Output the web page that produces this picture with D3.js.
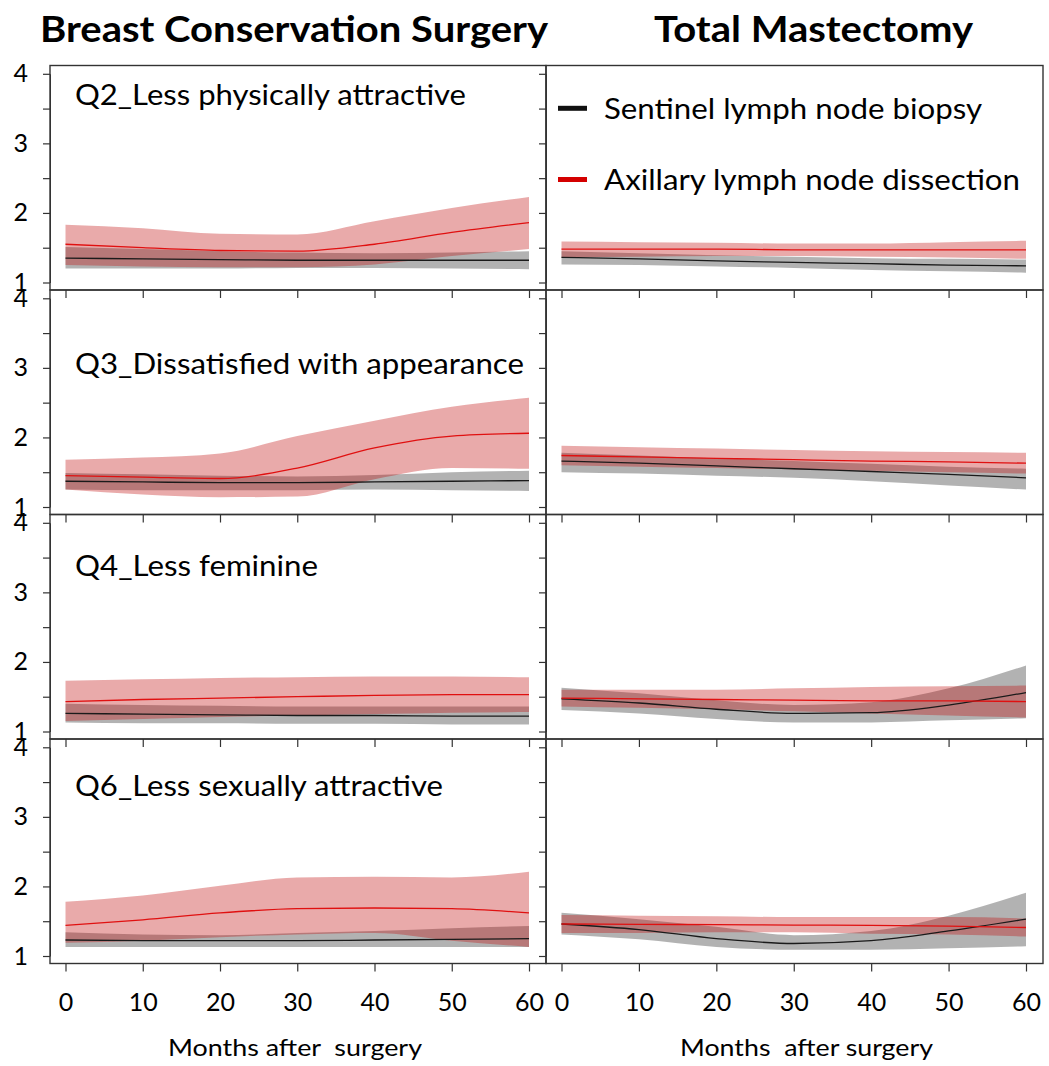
<!DOCTYPE html>
<html>
<head>
<meta charset="utf-8">
<script src="https://cdn.jsdelivr.net/npm/d3@7"></script>
<style>
  body { margin: 0; background: #fff; }
  text { font-family: Lato, "Open Sans", sans-serif; }
</style>
</head>
<body>
<svg id="chart"></svg>
<script>
const months = [0, 10, 20, 30, 40, 50, 60];

const column_titles = ['Breast Conservation Surgery', 'Total Mastectomy'];
const row_labels = ['Q2_Less physically attractive', 'Q3_Dissatisfied with appearance', 'Q4_Less feminine', 'Q6_Less sexually attractive'];
const legend_labels = ['Sentinel lymph node biopsy', 'Axillary lymph node dissection'];
const x_title_labels = ['Months after  surgery', 'Months  after surgery'];
const x_ticks = [0, 10, 20, 30, 40, 50, 60];
const y_ticks = [1, 1.5, 2, 2.5, 3, 3.5, 4];

// Q2, breast conservation surgery
const q2_bcs_alnd = [1.55, 1.50, 1.46, 1.45, 1.55, 1.72, 1.86];
const q2_bcs_alnd_hi = [1.83, 1.78, 1.70, 1.69, 1.88, 2.07, 2.23];
const q2_bcs_alnd_lo = [1.25, 1.23, 1.22, 1.22, 1.26, 1.38, 1.48];
const q2_bcs_slnb = [1.35, 1.34, 1.33, 1.32, 1.32, 1.32, 1.32];
const q2_bcs_slnb_hi = [1.51, 1.48, 1.45, 1.43, 1.42, 1.43, 1.45];
const q2_bcs_slnb_lo = [1.20, 1.20, 1.20, 1.21, 1.21, 1.20, 1.19];
// Q2, total mastectomy
const q2_tm_alnd = [1.48, 1.48, 1.48, 1.47, 1.47, 1.47, 1.47];
const q2_tm_alnd_hi = [1.59, 1.58, 1.57, 1.56, 1.56, 1.58, 1.60];
const q2_tm_alnd_lo = [1.36, 1.37, 1.38, 1.38, 1.37, 1.36, 1.34];
const q2_tm_slnb = [1.36, 1.34, 1.31, 1.29, 1.27, 1.25, 1.24];
const q2_tm_slnb_hi = [1.45, 1.42, 1.39, 1.37, 1.35, 1.34, 1.33];
const q2_tm_slnb_lo = [1.26, 1.25, 1.23, 1.21, 1.18, 1.16, 1.14];

// Q3, breast conservation surgery
const q3_bcs_alnd = [1.45, 1.43, 1.41, 1.56, 1.85, 2.02, 2.06];
const q3_bcs_alnd_hi = [1.68, 1.71, 1.77, 2.02, 2.24, 2.44, 2.57];
const q3_bcs_alnd_lo = [1.25, 1.18, 1.14, 1.15, 1.40, 1.56, 1.55];
const q3_bcs_slnb = [1.37, 1.36, 1.35, 1.35, 1.36, 1.37, 1.38];
const q3_bcs_slnb_hi = [1.49, 1.47, 1.45, 1.44, 1.46, 1.50, 1.52];
const q3_bcs_slnb_lo = [1.25, 1.24, 1.24, 1.24, 1.25, 1.24, 1.23];
// Q3, total mastectomy
const q3_tm_alnd = [1.74, 1.72, 1.70, 1.68, 1.66, 1.65, 1.63];
const q3_tm_alnd_hi = [1.88, 1.86, 1.84, 1.82, 1.80, 1.79, 1.78];
const q3_tm_alnd_lo = [1.60, 1.58, 1.56, 1.54, 1.52, 1.50, 1.48];
const q3_tm_slnb = [1.66, 1.63, 1.59, 1.55, 1.51, 1.47, 1.42];
const q3_tm_slnb_hi = [1.78, 1.74, 1.70, 1.66, 1.62, 1.58, 1.55];
const q3_tm_slnb_lo = [1.50, 1.48, 1.45, 1.42, 1.37, 1.31, 1.25];

// Q4, breast conservation surgery
const q4_bcs_alnd = [1.43, 1.46, 1.48, 1.50, 1.52, 1.53, 1.53];
const q4_bcs_alnd_hi = [1.73, 1.75, 1.77, 1.78, 1.79, 1.79, 1.78];
const q4_bcs_alnd_lo = [1.15, 1.18, 1.21, 1.23, 1.25, 1.27, 1.28];
const q4_bcs_slnb = [1.26, 1.25, 1.24, 1.23, 1.23, 1.22, 1.22];
const q4_bcs_slnb_hi = [1.40, 1.38, 1.37, 1.36, 1.36, 1.36, 1.36];
const q4_bcs_slnb_lo = [1.13, 1.12, 1.12, 1.11, 1.11, 1.10, 1.10];
// Q4, total mastectomy
const q4_tm_alnd = [1.48, 1.47, 1.46, 1.45, 1.44, 1.44, 1.43];
const q4_tm_alnd_hi = [1.60, 1.60, 1.60, 1.62, 1.64, 1.65, 1.66];
const q4_tm_alnd_lo = [1.36, 1.34, 1.32, 1.29, 1.26, 1.23, 1.20];
const q4_tm_slnb = [1.47, 1.41, 1.32, 1.26, 1.27, 1.38, 1.56];
const q4_tm_slnb_hi = [1.63, 1.55, 1.45, 1.38, 1.42, 1.62, 1.95];
const q4_tm_slnb_lo = [1.31, 1.26, 1.18, 1.13, 1.13, 1.16, 1.19];

// Q6, breast conservation surgery
const q6_bcs_alnd = [1.44, 1.52, 1.62, 1.68, 1.69, 1.68, 1.62];
const q6_bcs_alnd_hi = [1.78, 1.87, 2.01, 2.13, 2.14, 2.13, 2.21];
const q6_bcs_alnd_lo = [1.19, 1.22, 1.27, 1.31, 1.33, 1.22, 1.13];
const q6_bcs_slnb = [1.23, 1.22, 1.22, 1.22, 1.23, 1.24, 1.25];
const q6_bcs_slnb_hi = [1.34, 1.31, 1.30, 1.33, 1.36, 1.40, 1.43];
const q6_bcs_slnb_lo = [1.13, 1.13, 1.13, 1.13, 1.13, 1.13, 1.13];
// Q6, total mastectomy
const q6_tm_alnd = [1.46, 1.455, 1.45, 1.445, 1.44, 1.43, 1.41];
const q6_tm_alnd_hi = [1.59, 1.58, 1.57, 1.56, 1.56, 1.56, 1.54];
const q6_tm_alnd_lo = [1.33, 1.33, 1.34, 1.34, 1.32, 1.31, 1.28];
const q6_tm_slnb = [1.46, 1.38, 1.25, 1.18, 1.22, 1.36, 1.53];
const q6_tm_slnb_hi = [1.62, 1.53, 1.42, 1.30, 1.36, 1.58, 1.91];
const q6_tm_slnb_lo = [1.31, 1.24, 1.13, 1.09, 1.09, 1.11, 1.14];

// [row][col] -> series
const panels = [
    [
        {alnd: [q2_bcs_alnd, q2_bcs_alnd_lo, q2_bcs_alnd_hi], slnb: [q2_bcs_slnb, q2_bcs_slnb_lo, q2_bcs_slnb_hi]},
        {alnd: [q2_tm_alnd, q2_tm_alnd_lo, q2_tm_alnd_hi], slnb: [q2_tm_slnb, q2_tm_slnb_lo, q2_tm_slnb_hi]}
    ],
    [
        {alnd: [q3_bcs_alnd, q3_bcs_alnd_lo, q3_bcs_alnd_hi], slnb: [q3_bcs_slnb, q3_bcs_slnb_lo, q3_bcs_slnb_hi]},
        {alnd: [q3_tm_alnd, q3_tm_alnd_lo, q3_tm_alnd_hi], slnb: [q3_tm_slnb, q3_tm_slnb_lo, q3_tm_slnb_hi]}
    ],
    [
        {alnd: [q4_bcs_alnd, q4_bcs_alnd_lo, q4_bcs_alnd_hi], slnb: [q4_bcs_slnb, q4_bcs_slnb_lo, q4_bcs_slnb_hi]},
        {alnd: [q4_tm_alnd, q4_tm_alnd_lo, q4_tm_alnd_hi], slnb: [q4_tm_slnb, q4_tm_slnb_lo, q4_tm_slnb_hi]}
    ],
    [
        {alnd: [q6_bcs_alnd, q6_bcs_alnd_lo, q6_bcs_alnd_hi], slnb: [q6_bcs_slnb, q6_bcs_slnb_lo, q6_bcs_slnb_hi]},
        {alnd: [q6_tm_alnd, q6_tm_alnd_lo, q6_tm_alnd_hi], slnb: [q6_tm_slnb, q6_tm_slnb_lo, q6_tm_slnb_hi]}
    ]
];

let width = 1049;
let height = 1066;

const cols = [{x0: 50, x1: 546}, {x0: 546, x1: 1043}];
const row_top = 65.5;
const row_h = 224.5;
const label_offset = [39.5, 83.5, 61.5, 57];
const label_width = [391, 449, 243, 368];

const svg = d3.select('#chart')
    .attr('width', width)
    .attr('height', height);

svg.append('rect').attr('width', width).attr('height', height).attr('fill', '#fff');

const red_band = 'rgba(192, 12, 12, 0.35)';
const grey_band = 'rgba(0, 0, 0, 0.3)';
const red_line = '#e01010';
const black_line = '#1a1a1a';

function to_rows(vals) {
    return months.map((m, i) => ({m: m, mean: vals[0][i], lo: vals[1][i], hi: vals[2][i]}));
}

panels.forEach((row, r) => {
    row.forEach((p, c) => {
        let top = row_top + r * row_h;
        let bottom = top + row_h;

        let x = d3.scaleLinear().domain([0, 60]).range([cols[c].x0 + 15.5, cols[c].x1 - 17]);
        let y = d3.scaleLinear().domain([1, 4]).range([bottom - 7.5, top + 8.3]);

        let g = svg.append('g');

        let area = d3.area()
            .x(d => x(d.m))
            .y0(d => y(d.lo))
            .y1(d => y(d.hi))
            .curve(d3.curveMonotoneX);
        let line = d3.line()
            .x(d => x(d.m))
            .y(d => y(d.mean))
            .curve(d3.curveMonotoneX);

        let slnb = to_rows(p.slnb);
        let alnd = to_rows(p.alnd);

        g.append('path').datum(slnb).attr('d', area).attr('fill', grey_band);
        g.append('path').datum(alnd).attr('d', area).attr('fill', red_band);
        g.append('path').datum(slnb).attr('d', line)
            .attr('fill', 'none').attr('stroke', black_line).attr('stroke-width', 1.3);
        g.append('path').datum(alnd).attr('d', line)
            .attr('fill', 'none').attr('stroke', red_line).attr('stroke-width', 1.3);

        // panel box
        g.append('rect')
            .attr('x', cols[c].x0).attr('y', top)
            .attr('width', cols[c].x1 - cols[c].x0).attr('height', row_h)
            .attr('fill', 'none').attr('stroke', '#333').attr('stroke-width', 1.4);

        // y axis, labels only in the left column
        let y_axis = g.append('g')
            .attr('transform', 'translate(' + cols[c].x0 + ',0)')
            .call(d3.axisLeft(y).tickValues(y_ticks).tickSize(7).tickSizeOuter(0).tickPadding(15)
                .tickFormat(d => (c === 0 && Number.isInteger(d)) ? d : ''))
            .attr('color', '#333')
            .attr('font-family', 'Lato, sans-serif')
            .attr('font-size', 25);
        y_axis.selectAll('text').attr('fill', '#000');
        y_axis.selectAll('line').attr('stroke-width', 1.2);

        // x axis, labels only on the bottom row
        let x_axis = g.append('g')
            .attr('transform', 'translate(0,' + bottom + ')')
            .call(d3.axisBottom(x).tickValues(x_ticks).tickSize(8).tickSizeOuter(0).tickPadding(22)
                .tickFormat(d => r === panels.length - 1 ? d : ''))
            .attr('color', '#333')
            .attr('font-family', 'Lato, sans-serif')
            .attr('font-size', 25);
        x_axis.selectAll('text').attr('fill', '#000');
        x_axis.selectAll('line').attr('stroke-width', 1.2);
        x_axis.select('.domain').remove();

        if (c === 0) {
            g.append('text')
                .attr('x', 75)
                .attr('y', top + label_offset[r])
                .attr('font-size', 29)
                .attr('textLength', label_width[r])
                .attr('lengthAdjust', 'spacingAndGlyphs')
                .text(row_labels[r]);
        }
    });
});

// column titles
const title_pos = [{x: 40, w: 508}, {x: 654, w: 319}];
column_titles.forEach((t, i) => {
    svg.append('text')
        .attr('x', title_pos[i].x)
        .attr('y', 42)
        .attr('font-size', 37)
        .attr('font-weight', 'bold')
        .attr('textLength', title_pos[i].w)
        .attr('lengthAdjust', 'spacingAndGlyphs')
        .text(t);
});

// x axis titles
const x_title_pos = [{x: 168, w: 254}, {x: 680, w: 253}];
x_title_labels.forEach((t, i) => {
    svg.append('text')
        .attr('x', x_title_pos[i].x)
        .attr('y', 1056)
        .attr('font-size', 23)
        .attr('textLength', x_title_pos[i].w)
        .attr('lengthAdjust', 'spacingAndGlyphs')
        .style('white-space', 'pre')
        .text(t);
});

// legend in the top right panel
const legend_colors = ['#111', '#d40000'];
const legend_y = [108.3, 179.5];
const legend_w = [378, 416];
legend_labels.forEach((t, i) => {
    svg.append('line')
        .attr('x1', 558).attr('x2', 587)
        .attr('y1', legend_y[i]).attr('y2', legend_y[i])
        .attr('stroke', legend_colors[i])
        .attr('stroke-width', 5);
    svg.append('text')
        .attr('x', 604)
        .attr('y', legend_y[i] + 10.5)
        .attr('font-size', 29)
        .attr('textLength', legend_w[i])
        .attr('lengthAdjust', 'spacingAndGlyphs')
        .text(t);
});
</script>
</body>
</html>
